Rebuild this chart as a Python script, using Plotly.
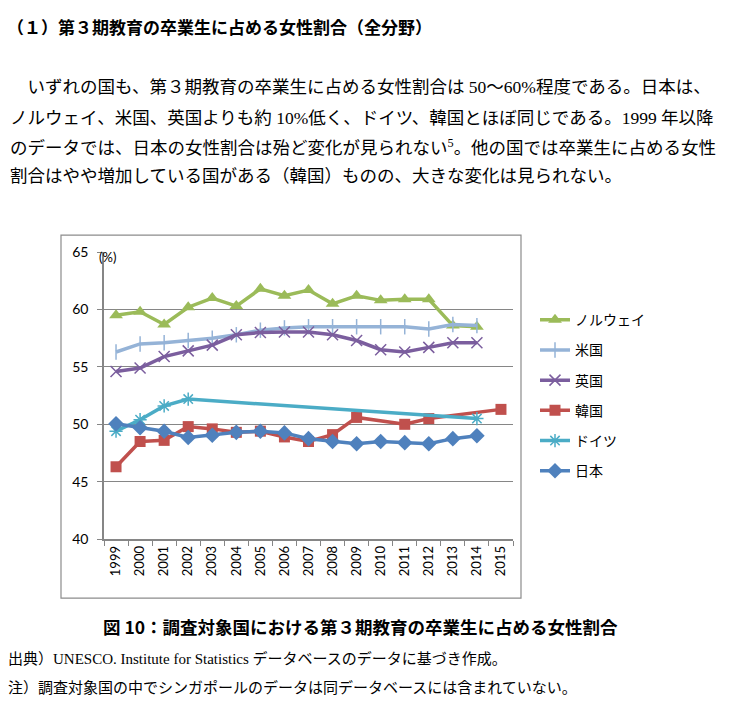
import plotly.graph_objects as go

# the page body keeps its 8px margin, so the figure is a bit smaller than the window
PAD = 8
W, H = 730 - 2 * PAD, 718 - 2 * PAD
# vertical correction measured from earlier renders (photo comes out squeezed)
VY0, VK = 8, 0.976

years = [str(y) for y in range(1999, 2016)]

# 第3期教育の卒業生に占める女性割合 (%) — None = データなし
norway = [59.5, 59.8, 58.7, 60.2, 61.0, 60.3, 61.8, 61.2, 61.7, 60.5, 61.2, 60.8, 60.9, 60.9, 58.6, 58.5, None]
usa = [56.3, 57.0, 57.1, 57.3, 57.5, 57.8, 58.2, 58.4, 58.5, 58.5, 58.5, 58.5, 58.5, 58.3, 58.7, 58.6, None]
uk = [54.6, 54.9, 55.9, 56.4, 56.9, 57.8, 58.0, 58.05, 58.05, 57.8, 57.3, 56.5, 56.3, 56.7, 57.1, 57.1, None]
korea = [46.3, 48.5, 48.6, 49.8, 49.6, 49.3, 49.4, 48.9, 48.5, 49.1, 50.6, None, 50.0, 50.5, None, None, 51.3]
germany = [49.4, 50.4, 51.6, 52.2, None, None, None, None, None, None, None, None, None, None, None, 50.5, None]
japan = [50.05, 49.7, 49.4, 48.85, 49.05, 49.3, 49.4, 49.25, 48.75, 48.5, 48.3, 48.5, 48.4, 48.3, 48.75, 49.0, None]

series = [
    ("ノルウェイ", norway, "#9BBB59", dict(symbol="triangle-up", size=12)),
    ("米国", usa, "#95B3D7", dict(symbol="line-ns", size=11, line=dict(width=1.5, color="#95B3D7"))),
    ("英国", uk, "#7B5E9E", dict(symbol="x-thin", size=11, line=dict(width=1.5, color="#7B5E9E"))),
    ("韓国", korea, "#C0504D", dict(symbol="square", size=11)),
    ("ドイツ", germany, "#4BACC6", dict(symbol="asterisk", size=11, line=dict(width=1.5, color="#4BACC6"))),
    ("日本", japan, "#4F81BD", dict(symbol="diamond", size=12)),
]

JP_SANS = "Noto Sans CJK JP"
JP_BODY = "Liberation Serif, Noto Sans CJK JP"
TICK_FONT = "Lato, Liberation Sans"


def px_x(x):
    # window pixel -> paper fraction
    return (x - PAD) / W


def px_y(y):
    p = (y - VY0) / VK
    return 1 - (p - PAD) / H


fig = go.Figure()
for i, (name, vals, color, marker) in enumerate(series):
    fig.add_trace(go.Scatter(
        x=years, y=vals, name=name, mode="lines+markers",
        line=dict(color=color, width=3.5),
        marker=dict(color=color, **marker),
        connectgaps=True,
        legendgroup=str(i),
    ))

fig.update_layout(
    width=W, height=H,
    margin=dict(l=0, r=0, t=0, b=0),
    paper_bgcolor="white",
    plot_bgcolor="white",
    xaxis=dict(
        domain=[px_x(104), px_x(513)],
        type="category",
        range=[-0.5, 16.5],
        tickangle=-90,
        tickson="boundaries",
        ticks="outside", ticklen=5, tickcolor="#868686",
        showline=True, linecolor="#868686", linewidth=1.5,
        showgrid=False,
        tickfont=dict(family=TICK_FONT, size=13, color="black"),
    ),
    yaxis=dict(
        domain=[px_y(538), px_y(251)],
        range=[40, 65], dtick=5,
        ticks="outside", ticklen=5, tickcolor="#868686",
        showline=True, linecolor="#868686", linewidth=1.5,
        gridcolor="#868686", gridwidth=1,
        ticklabelstandoff=6,
        tickfont=dict(family=TICK_FONT, size=14, color="black"),
    ),
    legend=dict(
        x=px_x(535), y=px_y(303), xanchor="left", yanchor="top",
        font=dict(family=JP_SANS, size=14, color="black"),
        tracegroupgap=9,
        traceorder="grouped",
    ),
    showlegend=True,
)

# chart frame
fig.add_shape(type="rect", xref="paper", yref="paper",
              x0=px_x(61), x1=px_x(521), y0=px_y(597), y1=px_y(234),
              line=dict(color="#8c8c8c", width=1.2))

fig.add_annotation(x=px_x(107), y=px_y(256), xref="paper", yref="paper",
                   text="(%)", showarrow=False, xanchor="center",
                   font=dict(family=TICK_FONT, size=13, color="black"))

# page text
texts = [
    (5, 25, "<b>（１）第３期教育の卒業生に占める女性割合（全分野）</b>", JP_SANS, 17),
    (8, 86, "　いずれの国も、第３期教育の卒業生に占める女性割合は 50～60%程度である。日本は、", JP_BODY, 17.5),
    (8, 117, "ノルウェイ、米国、英国よりも約 10%低く、ドイツ、韓国とほぼ同じである。1999 年以降", JP_BODY, 17.5),
    (8, 146, "のデータでは、日本の女性割合は殆ど変化が見られない<sup>5</sup>。他の国では卒業生に占める女性", JP_BODY, 17.5),
    (8, 175, "割合はやや増加している国がある（韓国）ものの、大きな変化は見られない。", JP_BODY, 17.5),
    (101, 625, "<b>図 10：調査対象国における第３期教育の卒業生に占める女性割合</b>", JP_SANS, 17.5),
    (6, 657, "出典）UNESCO. Institute for Statistics データベースのデータに基づき作成。", JP_BODY, 15),
    (6, 686, "注）調査対象国の中でシンガポールのデータは同データベースには含まれていない。", JP_BODY, 15),
]
for x, y, t, fam, size in texts:
    fig.add_annotation(x=px_x(x), y=px_y(y), xref="paper", yref="paper",
                       text=t, showarrow=False, xanchor="left", yanchor="middle",
                       font=dict(family=fam, size=size, color="black"))

fig.write_html("out.html")
